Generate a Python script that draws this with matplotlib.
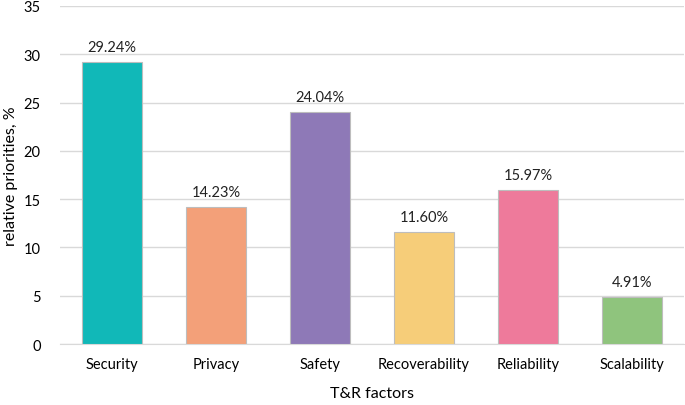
import matplotlib.pyplot as plt

factors = ['Security', 'Privacy', 'Safety', 'Recoverability', 'Reliability', 'Scalability']
priorities = [29.24, 14.23, 24.04, 11.60, 15.97, 4.91]
yticks = [0, 5, 10, 15, 20, 25, 30, 35]

colors = ['#11B8B8', '#F3A079', '#8E79B7', '#F6CD79', '#EE7A9B', '#8FC47D']

plt.rcParams['font.family'] = ['Lato', 'DejaVu Sans']

fig = plt.figure(figsize=(6.85, 4.06), dpi=100)
ax = fig.add_axes([0.0876, 0.150, 0.911, 0.833])

x = range(len(factors))
ax.bar(x, priorities, width=0.58, color=colors, edgecolor='#BDBDBD', linewidth=0.8, zorder=3)
for i, v in zip(x, priorities):
    ax.text(i, v + 0.8, f'{v:.2f}%', ha='center', va='bottom', fontsize=10.5, color='#222222')

ax.set_xlim(-0.5, len(factors) - 0.5)
ax.set_ylim(0, 35)
ax.set_yticks(yticks)
ax.set_xticks(list(x))
ax.set_xticklabels(factors, fontsize=10.5)
ax.tick_params(axis='y', labelsize=10.5, length=0, pad=14)
ax.tick_params(axis='x', length=0, pad=9)
ax.grid(axis='y', color='#D9D9D9', linewidth=1, zorder=0)
for s in ['top', 'right', 'left']:
    ax.spines[s].set_visible(False)
ax.spines['bottom'].set_color('#D9D9D9')

ax.set_xlabel('T&R factors', fontsize=11.5, labelpad=11)
ax.set_ylabel('relative priorities, %', fontsize=11.5, labelpad=4)

fig.savefig('out.png', dpi=100)
